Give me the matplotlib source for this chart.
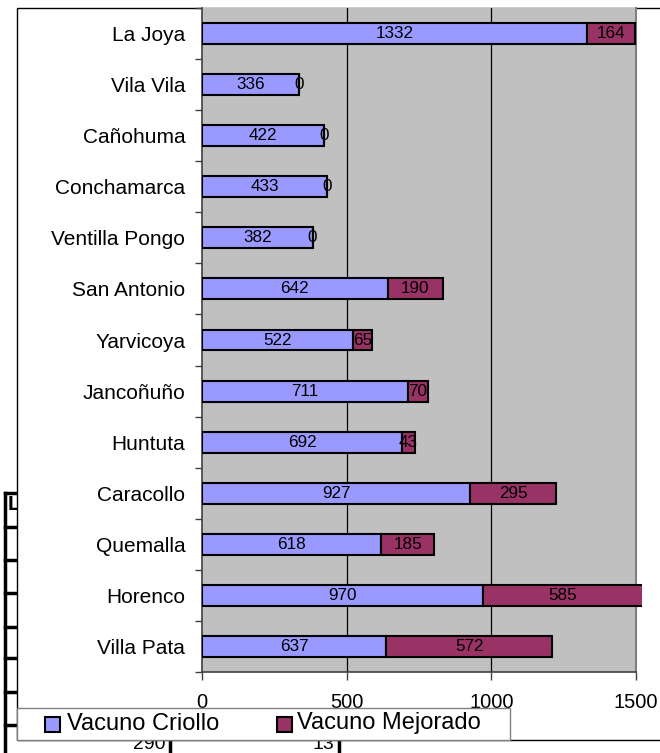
import matplotlib
matplotlib.use("Agg")
import matplotlib.pyplot as plt
from matplotlib.patches import Rectangle
from matplotlib.lines import Line2D
import numpy as np

plt.rcParams['font.family'] = ['Liberation Sans', 'DejaVu Sans']

# data (top to bottom as shown)
comunidades = ['La Joya', 'Vila Vila', 'Cañohuma', 'Conchamarca', 'Ventilla Pongo',
               'San Antonio', 'Yarvicoya', 'Jancoñuño', 'Huntuta', 'Caracollo',
               'Quemalla', 'Horenco', 'Villa Pata']
criollo = [1332, 336, 422, 433, 382, 642, 522, 711, 692, 927, 618, 970, 637]
mejorado = [164, 0, 0, 0, 0, 190, 65, 70, 43, 295, 185, 585, 572]
series = ['Vacuno Criollo', 'Vacuno Mejorado']
colores = ['#9999FF', '#993366']
xticks = [0, 500, 1000, 1500]

W, H = 660, 753
fig = plt.figure(figsize=(W / 100, H / 100), dpi=100)


def fx(px):
    return px / W


def fy(py):
    return 1 - py / H


# spreadsheet remnants behind the chart
fig.add_artist(Line2D([fx(5), fx(5)], [fy(493), fy(753)], color='black', lw=2.5, zorder=-5))
for yy in [493, 527, 560, 593, 627, 658, 692, 725]:
    fig.add_artist(Line2D([fx(5), fx(20)], [fy(yy), fy(yy)], color='black', lw=2.5, zorder=-5))
for xx in [170, 339]:
    fig.add_artist(Line2D([fx(xx), fx(xx)], [fy(738), fy(753)], color='black', lw=2.5, zorder=-5))
fig.text(fx(8), fy(504), 'L', fontsize=15, fontweight='bold', va='center', zorder=-5)
fig.text(fx(166), fy(753), '290', fontsize=14, ha='right', va='bottom', zorder=-5)
fig.text(fx(334), fy(753), '13', fontsize=14, ha='right', va='bottom', zorder=-5)

# chart area
fig.add_artist(Rectangle((fx(17), fy(740)), fx(700) - fx(17), fy(7.5) - fy(740),
                         facecolor='white', edgecolor='black', lw=1.0, zorder=-2))

ax = fig.add_axes([fx(202), fy(672), fx(636) - fx(202), fy(8) - fy(672)])
ax.set_zorder(1)
ax.set_facecolor('#C0C0C0')

y = np.arange(len(comunidades))
clip = Rectangle((0, 0), 1.0138, 1, transform=ax.transAxes)
b1 = ax.barh(y, criollo, height=0.41, color=colores[0], edgecolor='black', lw=1.5, zorder=3)
b2 = ax.barh(y, mejorado, left=criollo, height=0.41, color=colores[1], edgecolor='black', lw=1.5, zorder=3)
for p in list(b1) + list(b2):
    p.set_clip_on(True)
    p.set_clip_path(clip)
ax.bar_label(b1, labels=[str(v) for v in criollo], label_type='center', fontsize=12.3, zorder=4)
ax.bar_label(b2, labels=[str(v) for v in mejorado], label_type='center', fontsize=12.3, zorder=4)

ax.set_xlim(0, 1500)
ax.set_ylim(len(comunidades) - 0.5, -0.5)
ax.set_xticks(xticks)
ax.set_xticklabels([str(t) for t in xticks], fontsize=14.5)
for gx in xticks[1:-1]:
    ax.axvline(gx, color='black', lw=0.9, zorder=1)

ax.set_yticks(y)
ax.set_yticklabels(comunidades, fontsize=15)
ax.set_yticks(np.arange(-0.5, len(comunidades), 1), minor=True)
ax.tick_params(axis='y', which='major', length=0, pad=12)
ax.tick_params(axis='y', which='minor', length=5, width=1, color='#404040')
ax.tick_params(axis='x', which='major', length=6, width=1, color='#404040', pad=9)

for s in ['left', 'bottom']:
    ax.spines[s].set_color('#404040')
    ax.spines[s].set_linewidth(1.2)
ax.spines['right'].set_color('#808080')
ax.spines['right'].set_linewidth(1.5)
ax.spines['top'].set_visible(False)

# legend box
fig.add_artist(Rectangle((fx(17), fy(740)), fx(510) - fx(17), fy(708) - fy(740),
                         facecolor='white', edgecolor='#808080', lw=1.0, zorder=5))
for lx, tx, nombre, col in [(45, 67, series[0], colores[0]), (277, 297, series[1], colores[1])]:
    fig.add_artist(Rectangle((fx(lx), fy(732)), fx(15), 15 / H,
                             facecolor=col, edgecolor='black', lw=1.5, zorder=6))
    fig.text(fx(tx), fy(723.5), nombre, fontsize=17, va='center', ha='left', zorder=6)

fig.savefig('out.png', dpi=100)
